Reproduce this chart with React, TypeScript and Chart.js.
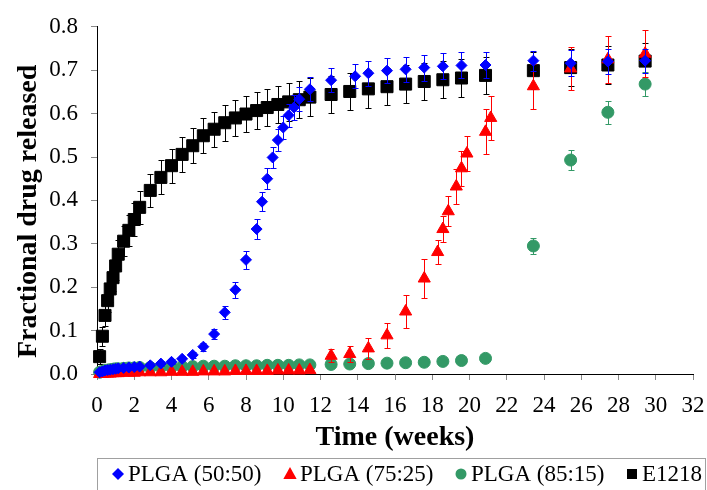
import React, { useEffect, useRef } from 'react';
import { Chart, registerables } from 'chart.js';

Chart.register(...registerables);

const FONT = "'Liberation Serif', 'Times New Roman', serif";

// ---------- data (x in weeks, y = fractional drug released) ----------
const earlyWeeks = [0.14, 0.29, 0.43, 0.57, 0.71, 0.86, 1.0, 1.14, 1.43, 1.71, 2.0, 2.29, 2.86, 3.43, 4.0, 4.57, 5.14, 5.71, 6.29, 6.86, 7.43, 8.0, 8.57, 9.14, 9.71, 10.29, 10.86, 11.43];
const lateWeeks = [12.57, 13.57, 14.57, 15.57, 16.57, 17.57, 18.57, 19.57, 20.86, 23.43, 25.43, 27.43, 29.43];

const plga5050Weeks = [0.14, 0.29, 0.43, 0.57, 0.71, 0.86, 1.0, 1.14, 1.43, 1.71, 2.0, 2.29, 2.86, 3.43, 4.0, 4.57, 5.14, 5.71, 6.29, 6.86, 7.43, 8.0, 8.57, 8.86, 9.14, 9.43, 9.71, 10.0, 10.29, 10.57, 10.86, 11.43, 12.57, 13.86, 14.57, 15.57, 16.57, 17.57, 18.57, 19.57, 20.86, 23.43, 25.43, 27.43, 29.43];
const plga5050Values = [0.004, 0.006, 0.008, 0.009, 0.010, 0.011, 0.012, 0.013, 0.014, 0.015, 0.016, 0.017, 0.020, 0.024, 0.028, 0.035, 0.044, 0.063, 0.092, 0.142, 0.194, 0.263, 0.334, 0.397, 0.450, 0.499, 0.539, 0.568, 0.596, 0.614, 0.633, 0.656, 0.677, 0.686, 0.693, 0.699, 0.702, 0.706, 0.709, 0.711, 0.712, 0.722, 0.716, 0.720, 0.722];
const plga5050Errors = [0.003, 0.003, 0.003, 0.003, 0.003, 0.003, 0.003, 0.003, 0.003, 0.003, 0.003, 0.004, 0.004, 0.005, 0.006, 0.006, 0.007, 0.009, 0.012, 0.015, 0.018, 0.020, 0.022, 0.022, 0.024, 0.025, 0.026, 0.027, 0.027, 0.028, 0.028, 0.028, 0.028, 0.028, 0.029, 0.029, 0.029, 0.030, 0.030, 0.030, 0.030, 0.023, 0.030, 0.029, 0.028];

const plga7525Weeks = [...earlyWeeks, 12.57, 13.57, 14.57, 15.57, 16.57, 17.57, 18.29, 18.57, 18.86, 19.29, 19.57, 19.86, 20.86, 21.14, 23.43, 25.43, 27.43, 29.43];
const plga7525Values = [0.000, 0.000, 0.001, 0.001, 0.001, 0.002, 0.002, 0.002, 0.003, 0.003, 0.003, 0.004, 0.004, 0.004, 0.005, 0.005, 0.005, 0.006, 0.006, 0.006, 0.007, 0.007, 0.007, 0.007, 0.008, 0.008, 0.008, 0.009,
  0.042, 0.046, 0.059, 0.089, 0.144, 0.220, 0.281, 0.334, 0.375, 0.432, 0.474, 0.508, 0.558, 0.590, 0.663, 0.704, 0.725, 0.738];
const plga7525Errors = [0.002, 0.002, 0.002, 0.002, 0.002, 0.002, 0.002, 0.002, 0.002, 0.002, 0.002, 0.002, 0.002, 0.002, 0.002, 0.002, 0.002, 0.002, 0.002, 0.002, 0.002, 0.002, 0.002, 0.002, 0.002, 0.002, 0.002, 0.002,
  0.015, 0.018, 0.024, 0.029, 0.038, 0.045, 0.028, 0.030, 0.035, 0.040, 0.040, 0.040, 0.052, 0.050, 0.052, 0.050, 0.054, 0.054];

const plga8515Weeks = [...earlyWeeks, ...lateWeeks];
const plga8515Values = [0.004, 0.006, 0.008, 0.009, 0.010, 0.011, 0.012, 0.012, 0.013, 0.014, 0.014, 0.015, 0.015, 0.016, 0.016, 0.017, 0.017, 0.018, 0.018, 0.018, 0.019, 0.019, 0.019, 0.020, 0.020, 0.020, 0.021, 0.021,
  0.022, 0.023, 0.024, 0.025, 0.026, 0.027, 0.029, 0.031, 0.036, 0.295, 0.493, 0.603, 0.668];
const plga8515Errors = [0.002, 0.002, 0.002, 0.002, 0.002, 0.002, 0.002, 0.002, 0.002, 0.002, 0.002, 0.002, 0.002, 0.002, 0.002, 0.002, 0.002, 0.002, 0.002, 0.002, 0.002, 0.002, 0.002, 0.002, 0.002, 0.002, 0.002, 0.002,
  0.003, 0.003, 0.003, 0.003, 0.003, 0.003, 0.003, 0.003, 0.004, 0.018, 0.024, 0.027, 0.027];

const e1218Weeks = [...earlyWeeks, ...lateWeeks];
const e1218Values = [0.040, 0.087, 0.135, 0.169, 0.196, 0.222, 0.249, 0.276, 0.306, 0.331, 0.356, 0.384, 0.423, 0.453, 0.480, 0.506, 0.526, 0.549, 0.564, 0.579, 0.590, 0.599, 0.607, 0.614, 0.621, 0.627, 0.632, 0.638,
  0.644, 0.651, 0.657, 0.662, 0.668, 0.674, 0.678, 0.682, 0.688, 0.699, 0.706, 0.712, 0.721];
const e1218Errors = [0.018, 0.022, 0.025, 0.027, 0.029, 0.030, 0.032, 0.033, 0.035, 0.036, 0.037, 0.038, 0.038, 0.039, 0.039, 0.040, 0.040, 0.040, 0.040, 0.041, 0.041, 0.041, 0.042, 0.042, 0.042, 0.043, 0.043, 0.043,
  0.043, 0.043, 0.043, 0.043, 0.043, 0.043, 0.043, 0.043, 0.043, 0.043, 0.043, 0.043, 0.042];

const seriesLabels = ['PLGA (50:50)', 'PLGA (75:25)', 'PLGA (85:15)', 'E1218'];
const seriesColors = ['#0000FF', '#FF0000', '#339966', '#000000'];
const xTickStep = 2;
const yTickStep = 0.1;

const toPoints = (xs: number[], ys: number[]) => xs.map((x, i) => ({ x, y: ys[i] }));

// ---------- plugins ----------
const errorBarPlugin = {
  id: 'errorBars',
  beforeDatasetDraw(chart: any, args: any) {
    const ds = chart.data.datasets[args.index];
    const errs: number[] = ds.errors;
    if (!errs) return;
    const yScale = chart.scales.y;
    const ctx = chart.ctx;
    ctx.save();
    ctx.strokeStyle = ds.errorColor;
    ctx.lineWidth = 1;
    args.meta.data.forEach((pt: any, i: number) => {
      const v = ds.data[i].y;
      const e = errs[i];
      const x = Math.round(pt.x) + 0.5;
      const yt = Math.round(yScale.getPixelForValue(v + e)) + 0.5;
      const yb = Math.round(yScale.getPixelForValue(v - e)) + 0.5;
      ctx.beginPath();
      ctx.moveTo(x, yt); ctx.lineTo(x, yb);
      ctx.moveTo(x - 3, yt); ctx.lineTo(x + 3, yt);
      ctx.moveTo(x - 3, yb); ctx.lineTo(x + 3, yb);
      ctx.stroke();
    });
    ctx.restore();
  },
};

function drawMarker(ctx: CanvasRenderingContext2D, style: string, x: number, y: number, s: number) {
  ctx.beginPath();
  if (style === 'diamond') {
    ctx.moveTo(x, y - s); ctx.lineTo(x + s, y); ctx.lineTo(x, y + s); ctx.lineTo(x - s, y); ctx.closePath();
  } else if (style === 'triangle') {
    ctx.moveTo(x, y - s); ctx.lineTo(x + s * 0.95, y + s * 0.7); ctx.lineTo(x - s * 0.95, y + s * 0.7); ctx.closePath();
  } else if (style === 'circle') {
    ctx.arc(x, y, s, 0, Math.PI * 2);
  } else {
    ctx.rect(x - s, y - s, 2 * s, 2 * s);
  }
  ctx.fill();
}

const decorPlugin = {
  id: 'decor',
  afterDraw(chart: any) {
    const ctx = chart.ctx;
    const area = chart.chartArea;
    ctx.save();
    // y-axis title
    ctx.fillStyle = '#000';
    ctx.font = `bold 28px ${FONT}`;
    ctx.textAlign = 'center';
    ctx.textBaseline = 'middle';
    ctx.translate(29, (area.top + area.bottom) / 2 + 11);
    ctx.rotate(-Math.PI / 2);
    ctx.fillText('Fractional drug released', 0, 0);
    ctx.restore();

    // legend
    ctx.save();
    ctx.strokeStyle = '#a0a0a0';
    ctx.lineWidth = 1;
    ctx.strokeRect(97.5, 458.5, 608, 40);
    const styles = ['diamond', 'triangle', 'circle', 'square'];
    const markerX = [118, 290, 461, 632];
    const sizes = [6, 7, 5.5, 5];
    const cy = 474;
    ctx.font = `23px ${FONT}`;
    ctx.textAlign = 'left';
    ctx.textBaseline = 'middle';
    for (let i = 0; i < 4; i++) {
      ctx.fillStyle = seriesColors[i];
      drawMarker(ctx, styles[i], markerX[i], cy, sizes[i]);
      ctx.fillStyle = '#000';
      ctx.fillText(seriesLabels[i], markerX[i] + 10, cy + 1);
    }
    ctx.restore();
  },
};

export default function App() {
  const ref = useRef<HTMLCanvasElement | null>(null);
  useEffect(() => {
    if (!ref.current) return;
    const mk = (i: number, xs: number[], ys: number[], errs: number[], pointStyle: string, radius: number) => ({
      label: seriesLabels[i],
      data: toPoints(xs, ys),
      errors: errs,
      errorColor: seriesColors[i],
      backgroundColor: seriesColors[i],
      borderColor: seriesColors[i],
      borderWidth: 1,
      pointStyle,
      pointRadius: radius,
      showLine: false,
      clip: false,
    });
    const chart = new Chart(ref.current, {
      type: 'scatter',
      data: {
        datasets: [
          mk(0, plga5050Weeks, plga5050Values, plga5050Errors, 'rectRot', 5.5),
          mk(1, plga7525Weeks, plga7525Values, plga7525Errors, 'triangle', 7),
          mk(2, plga8515Weeks, plga8515Values, plga8515Errors, 'circle', 6),
          mk(3, e1218Weeks, e1218Values, e1218Errors, 'rect', 8.5),
        ] as any,
      },
      options: {
        animation: false,
        responsive: false,
        devicePixelRatio: 1,
        layout: { padding: { left: 0, right: 14, top: 24, bottom: 38 } },
        plugins: { legend: { display: false }, tooltip: { enabled: false } },
        scales: {
          x: {
            type: 'linear',
            min: 0,
            max: 32,
            ticks: { stepSize: xTickStep, color: '#000', font: { family: FONT, size: 23 }, padding: 12, maxRotation: 0 },
            grid: { drawOnChartArea: false, drawTicks: true, tickLength: 6, color: '#888' },
            border: { color: '#000', width: 1 },
            title: { display: true, text: 'Time (weeks)', color: '#000', font: { family: FONT, size: 28, weight: 'bold' }, padding: { top: 0, bottom: -3 } },
            afterFit: (s: any) => { s.height = 78; s.paddingRight = 12; s.paddingLeft = 0; },
          },
          y: {
            min: 0,
            max: 0.8,
            ticks: { stepSize: yTickStep, color: '#000', font: { family: FONT, size: 23 }, padding: 13, callback: (v: any) => Number(v).toFixed(1) },
            grid: { drawOnChartArea: false, drawTicks: true, tickLength: 6, color: '#888' },
            border: { color: '#000', width: 1 },
            afterFit: (s: any) => { s.width = 97; },
          },
        },
      } as any,
      plugins: [errorBarPlugin, decorPlugin],
    });
    return () => chart.destroy();
  }, []);
  return (
    <div style={{ position: 'absolute', left: 0, top: 0, width: 707, height: 490, background: '#fff' }}>
      <canvas ref={ref} width={707} height={490} style={{ width: 707, height: 490 }} />
    </div>
  );
}
